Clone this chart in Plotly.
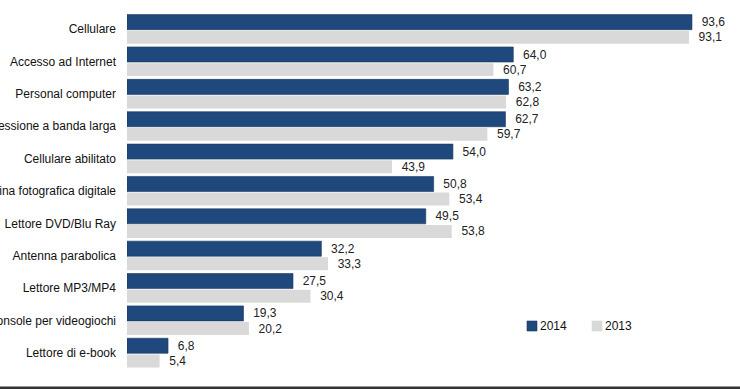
import plotly.graph_objects as go

categories = ["Cellulare", "Accesso ad Internet", "Personal computer",
              "Connessione a banda larga", "Cellulare abilitato",
              "Macchina fotografica digitale", "Lettore DVD/Blu Ray",
              "Antenna parabolica", "Lettore MP3/MP4",
              "Console per videogiochi", "Lettore di e-book"]
values_2014 = [93.6, 64.0, 63.2, 62.7, 54.0, 50.8, 49.5, 32.2, 27.5, 19.3, 6.8]
values_2013 = [93.1, 60.7, 62.8, 59.7, 43.9, 53.4, 53.8, 33.3, 30.4, 20.2, 5.4]
series_names = ["2014", "2013"]
colors = ["#1F497D", "#D9D9D9"]

W, H = 740, 389
L, R, T, B = 127, 13, 13, 20
plot_w = W - L - R
plot_h = H - T - B
px_per_unit = 6.036
xmax = plot_w / px_per_unit

def px_x(p):
    return (p - L) / plot_w

def px_y(p):
    return (H - B - p) / plot_h

txtfont = dict(family="Liberation Sans, Arial", size=12, color="#222")

fig = go.Figure()
fig.add_trace(go.Bar(
    y=categories, x=values_2014, orientation="h", name=series_names[0],
    marker=dict(color=colors[0], line=dict(color="#17375E", width=0.6)),
    width=0.465, offset=-0.45,
    texttemplate="  %{x:.1f}", textposition="outside", constraintext="none",
    textfont=txtfont, cliponaxis=False, hoverinfo="skip",
))
fig.add_trace(go.Bar(
    y=categories, x=values_2013, orientation="h", name=series_names[1],
    marker=dict(color=colors[1], line=dict(width=0)),
    width=0.40, offset=0.05,
    texttemplate="  %{x:.1f}", textposition="outside", constraintext="none",
    textfont=txtfont, cliponaxis=False, hoverinfo="skip",
))

fig.update_layout(
    width=W, height=H,
    margin=dict(l=L, r=R, t=T, b=B, autoexpand=False),
    barmode="overlay",
    separators=",.",
    plot_bgcolor="white", paper_bgcolor="white",
    font=dict(family="Liberation Sans, Arial", size=12, color="#111"),
    showlegend=False,
)
fig.update_xaxes(range=[0, xmax], visible=False, showgrid=False, zeroline=False)
fig.update_yaxes(autorange="reversed", showgrid=False, zeroline=False, showline=False,
                 ticks="", ticklabelstandoff=10, automargin=False,
                 tickfont=dict(size=12, color="#111"))

# manual legend
legend_items = [(527, series_names[0], colors[0], "#17375E"),
                (592, series_names[1], colors[1], colors[1])]
for x0, name, col, lcol in legend_items:
    fig.add_shape(type="rect", xref="paper", yref="paper",
                  x0=px_x(x0), x1=px_x(x0 + 10), y0=px_y(331), y1=px_y(321),
                  fillcolor=col, line=dict(color=lcol, width=0.6))
    fig.add_annotation(xref="paper", yref="paper", x=px_x(x0 + 11), y=px_y(326),
                       text=name, showarrow=False, xanchor="left", yanchor="middle",
                       font=dict(family="Liberation Sans, Arial", size=12, color="#111"))

# bottom frame line
fig.add_shape(type="line", xref="paper", yref="paper",
              x0=px_x(0), x1=px_x(W), y0=px_y(388), y1=px_y(388),
              line=dict(color="#333", width=3))

fig.write_html("out.html", config={"displayModeBar": False},
               post_script="document.body.style.margin='0';")
